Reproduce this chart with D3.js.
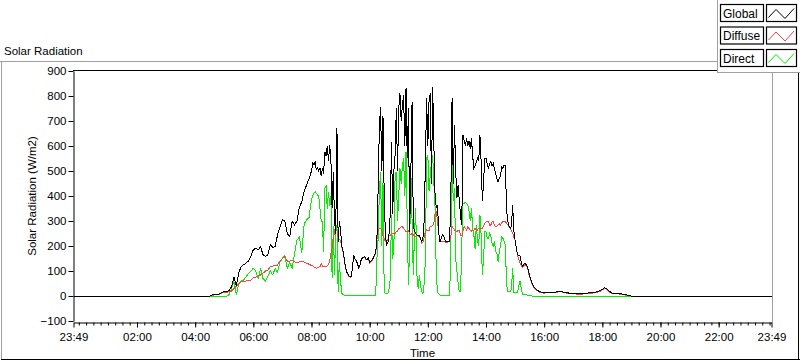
<!DOCTYPE html>
<html><head><meta charset="utf-8">
<script src="https://cdn.jsdelivr.net/npm/d3@7"></script>
<style>
body{margin:0;background:#fff;}
svg{display:block;font-family:"Liberation Sans",Arial,sans-serif;}
</style></head><body>
<svg id="c" width="800" height="361"></svg>
<script>
// ---- DATA ----
const timeLabels = ["23:49",
"04:30","04:35","04:40","04:45","04:50","04:55",
"05:00","05:05","05:10","05:15","05:20","05:25","05:30","05:35","05:40","05:45","05:50","05:55",
"06:00","06:05","06:10","06:15","06:20","06:25","06:30","06:35","06:40","06:45","06:50","06:55",
"07:00","07:05","07:10","07:15","07:20","07:25","07:30","07:35","07:40","07:45","07:50","07:55",
"08:00","08:02:30","08:05","08:07:30","08:10","08:12:30","08:15","08:17:30","08:20","08:22:30","08:25","08:27:30","08:30","08:32:30","08:35","08:37:30","08:40","08:42:30","08:45","08:47:30","08:50","08:52:30","08:55","08:57:30",
"09:00","09:02:30","09:05","09:07:30","09:10","09:12:30","09:15","09:17:30","09:20","09:22:30","09:25","09:27:30","09:30","09:32:30","09:35","09:37:30","09:40","09:42:30","09:45","09:47:30","09:50","09:52:30","09:55","09:57:30",
"10:00","10:02:30","10:05","10:07:30","10:10","10:12:30","10:15","10:17:30","10:20","10:22:30","10:25","10:27:30","10:30","10:32:30","10:35","10:37:30","10:40","10:42:30","10:45","10:47:30","10:50","10:52:30","10:55","10:57:30",
"11:00","11:02:30","11:05","11:07:30","11:10","11:12:30","11:15","11:17:30","11:20","11:22:30","11:25","11:27:30","11:30","11:32:30","11:35","11:37:30","11:40","11:42:30","11:45","11:47:30","11:50","11:52:30","11:55","11:57:30",
"12:00","12:02:30","12:05","12:07:30","12:10","12:12:30","12:15","12:17:30","12:20","12:22:30","12:25","12:27:30","12:30","12:32:30","12:35","12:37:30","12:40","12:42:30","12:45","12:47:30","12:50","12:52:30","12:55","12:57:30",
"13:00","13:02:30","13:05","13:07:30","13:10","13:12:30","13:15","13:17:30","13:20","13:22:30","13:25","13:27:30","13:30","13:32:30","13:35","13:37:30","13:40","13:42:30","13:45","13:47:30","13:50","13:52:30","13:55","13:57:30",
"14:00","14:02:30","14:05","14:07:30","14:10","14:12:30","14:15","14:17:30","14:20","14:22:30","14:25","14:27:30","14:30","14:32:30","14:35","14:37:30","14:40","14:42:30","14:45","14:47:30","14:50","14:52:30","14:55","14:57:30",
"15:00","15:05","15:10","15:15","15:20","15:25","15:30","15:35","15:40","15:45","15:50","15:55",
"16:00","16:05","16:10","16:15","16:20","16:25","16:30","16:35","16:40","16:45","16:50","16:55",
"17:00","17:05","17:10","17:15","17:20","17:25","17:30","17:35","17:40","17:45","17:50","17:55",
"18:00","18:05","18:10","18:15","18:20","18:25","18:30","18:35","18:40","18:45","18:50","18:55",
"19:00",
"23:49"];

const globalVals = [0,
0,4,5,6,8,15,
17,18,22,37,77,40,95,117,125,132,140,160,
185,192,185,197,165,158,165,204,195,197,245,277,
305,300,250,237,300,285,300,355,377,420,444,470,
500,531,525,535,505,512,500,512,480,512,490,577,560,600,540,604,550,351,497,300,250,671,217,300,
260,200,180,150,115,97,88,80,77,80,130,160,148,142,128,113,124,145,152,155,157,148,146,151,
135,140,145,151,165,175,231,431,680,757,500,720,400,244,204,212,250,330,617,330,500,564,751,500,
751,811,700,764,804,600,831,551,750,257,500,777,284,260,250,244,244,240,230,217,235,300,537,791,
600,780,810,450,837,600,400,351,364,250,217,230,244,240,225,217,217,217,220,400,791,450,684,500,
391,444,380,320,284,644,620,600,630,600,620,590,630,560,511,520,537,550,540,644,537,380,457,551,
551,530,510,530,540,520,530,510,490,470,457,470,480,517,510,524,524,344,300,280,271,280,364,260,
224,165,160,118,131,120,80,50,33,24,18,15,
13,15,15,15,15,16,20,20,15,14,12,12,
11,10,10,10,10,11,12,13,14,15,18,21,
27,33,28,18,12,11,11,10,8,6,4,1,
0,
0];

const diffuseVals = [0,
0,3,4,5,7,12,
14,15,18,20,30,40,50,57,57,60,62,64,
72,76,80,84,91,100,104,117,120,122,124,140,
151,157,140,140,142,137,133,137,140,135,131,127,
122,120,117,114,111,113,115,117,130,120,117,117,117,120,125,140,170,195,217,264,265,260,231,226,
222,195,177,147,112,95,86,78,75,78,128,158,146,140,126,111,122,143,150,153,155,146,144,149,
133,138,143,149,163,171,224,260,271,271,265,240,231,217,220,225,244,244,251,251,251,251,257,260,
271,271,277,277,271,264,257,257,260,251,244,251,244,240,237,244,240,235,231,211,215,235,257,264,
262,260,280,277,282,290,331,337,300,250,217,217,217,217,217,215,215,217,217,240,277,271,264,260,
257,264,264,244,240,260,277,270,264,277,270,264,260,264,264,270,264,264,271,271,271,271,280,290,
297,300,297,284,284,297,297,284,277,280,284,290,284,293,297,297,297,290,284,277,271,260,251,235,
222,163,133,113,125,117,75,47,30,22,16,13,
11,13,13,13,13,14,17,18,13,12,10,10,
9,8,8,8,8,9,10,11,12,13,15,18,
24,30,25,16,10,9,9,8,6,5,3,1,
0,
0];

const directVals = [0,
0,0,0,0,0,0,
0,0,5,30,57,5,52,60,64,77,90,100,
111,100,70,110,70,60,80,100,85,110,95,137,
150,164,110,135,111,170,224,235,173,290,304,315,
385,400,411,417,410,404,400,351,300,297,177,431,440,350,417,360,400,71,280,84,257,284,17,137,
60,10,6,4,4,4,4,4,4,4,4,4,4,4,4,4,4,4,4,4,4,4,4,4,
4,4,4,4,4,4,150,231,420,497,200,450,20,10,10,10,30,67,324,150,200,484,497,300,
400,511,450,520,551,400,577,300,44,200,497,300,84,250,351,84,30,84,40,17,10,50,150,551,
564,420,484,537,564,450,351,84,17,8,4,2,2,2,2,2,2,2,2,200,524,380,431,150,
100,50,17,17,200,371,371,375,371,365,340,300,351,270,244,190,284,220,200,324,244,84,150,257,
257,230,230,250,240,210,200,220,177,170,137,180,200,237,230,220,200,44,17,17,17,30,111,15,
15,15,60,8,6,4,2,0,0,0,0,0,
0,0,0,0,0,0,0,0,0,0,0,0,
0,0,0,0,0,0,0,0,0,0,0,0,
0,0,0,0,0,0,0,0,0,0,0,0,
0,
0];

const seriesNames = ["Global","Diffuse","Direct"];
const seriesColors = ["#000000","#ff4040","#00f000"];
const yTickValues = [-100,0,100,200,300,400,500,600,700,800,900];
const xTickLabels = ["23:49","02:00","04:00","06:00","08:00","10:00","12:00","14:00","16:00","18:00","20:00","22:00","23:49"];
const chartTitle = "Solar Radiation";
const xTitle = "Time";
const yTitle = "Solar Radiation (W/m2)";

// ---- helpers ----
function parseSeq(labels){
  let day = 0, prev = -1;
  return labels.map(s => {
    const [h,m,sec] = s.split(":").map(Number);
    const v = h*3600+m*60+(sec||0);
    if (prev >= 0 && v < prev) day++;
    prev = v;
    return new Date(2000,0,1+day,h,m,sec||0);
  });
}
const times = parseSeq(timeLabels);
const xTicks = parseSeq(xTickLabels);
[globalVals, diffuseVals, directVals].forEach((a,i)=>{
  if (a.length !== times.length) console.error("length mismatch", i, a.length, times.length);
});

const svg = d3.select("#c");
const FONT = "11.5px";

const L = 73.5, R = 771.5, T = 71, B = 321;
const x = d3.scaleTime().domain([xTicks[0], xTicks[xTicks.length-1]]).range([L, R]);
const y = d3.scaleLinear().domain([-100, 900]).range([B, T]);

// outer frame
svg.append("line").attr("x1",0).attr("x2",717).attr("y1",61.5).attr("y2",61.5).attr("stroke","#a0a0a0");
svg.append("line").attr("x1",1.5).attr("x2",1.5).attr("y1",61).attr("y2",360).attr("stroke","#a0a0a0");
svg.append("line").attr("x1",1).attr("x2",800).attr("y1",359.5).attr("y2",359.5).attr("stroke","#000");
svg.append("line").attr("x1",798.5).attr("x2",798.5).attr("y1",61).attr("y2",360).attr("stroke","#000");

svg.append("text").attr("x",4).attr("y",55).attr("font-size",FONT).attr("fill","#000").text(chartTitle);

// plot border
svg.append("line").attr("x1",73).attr("x2",772).attr("y1",70.5).attr("y2",70.5).attr("stroke","#000");
svg.append("line").attr("x1",772.5).attr("x2",772.5).attr("y1",70).attr("y2",322.5).attr("stroke","#a0a0a0");

// data lines
const line = d3.line().x((d,i)=>x(times[i])).y(d=>y(d));
const seriesVals = [globalVals, diffuseVals, directVals];
const g = svg.append("g");
[2,1,0].forEach(k => {
  g.append("path").datum(seriesVals[k])
    .attr("d", line).attr("fill","none")
    .attr("stroke", seriesColors[k]).attr("stroke-width",1)
    .attr("shape-rendering","crispEdges");
});

// y axis
const yAxis = svg.append("g").attr("transform",`translate(${L},0)`)
  .call(d3.axisLeft(y).tickValues(yTickValues).tickSize(5).tickSizeOuter(0).tickPadding(2));
yAxis.selectAll("text").attr("font-size",FONT).attr("font-family","Liberation Sans, Arial, sans-serif").attr("fill","#000");
yAxis.selectAll("line,path").attr("stroke","#000");

// x axis (bottom)
const xAxisY = 322.5;
const xa = svg.append("g").attr("transform",`translate(0,${xAxisY})`)
  .call(d3.axisBottom(x).tickValues(xTicks).tickFormat(d3.timeFormat("%H:%M")).tickSize(5).tickSizeOuter(0).tickPadding(5));
xa.selectAll("text").attr("font-size",FONT).attr("font-family","Liberation Sans, Arial, sans-serif").attr("fill","#000");
xa.selectAll("line").attr("stroke","#000");
xa.select("path").attr("stroke","#000");
const minor = d3.timeMinute.every(15).range(xTicks[0], xTicks[xTicks.length-1]);
const xm = svg.append("g").attr("transform",`translate(0,${xAxisY})`)
  .call(d3.axisBottom(x).tickValues(minor).tickSize(3).tickSizeOuter(0).tickFormat(""));
xm.select("path").remove();
xm.selectAll("line").attr("stroke","#000");

// axis titles
svg.append("text").attr("x",(L+R)/2).attr("y",357).attr("text-anchor","middle")
  .attr("font-size",FONT).text(xTitle);
svg.append("text").attr("transform",`translate(36,196) rotate(-90)`).attr("text-anchor","middle")
  .attr("font-size",FONT).text(yTitle);

// legend
const lg = svg.append("g");
lg.append("rect").attr("x",717.5).attr("y",-1).attr("width",83).attr("height",73.5)
  .attr("fill","#fff").attr("stroke","#a0a0a0");
seriesNames.forEach((name,i) => {
  const y0 = 4.5 + i*22.5;
  lg.append("rect").attr("x",720.5).attr("y",y0).attr("width",43).attr("height",17)
    .attr("fill","#fff").attr("stroke","#000").attr("stroke-width",1.2);
  lg.append("text").attr("x",723).attr("y",y0+13).attr("font-size","12px").attr("fill","#000").text(name);
  lg.append("rect").attr("x",766.5).attr("y",y0).attr("width",30).attr("height",17)
    .attr("fill","#fff").attr("stroke","#000").attr("stroke-width",1.2);
  lg.append("path").attr("d",`M768.5,${y0+13}L776,${y0+5}L785,${y0+14}L794,${y0+4}`)
    .attr("fill","none").attr("stroke",seriesColors[i]).attr("stroke-width",1);
});
</script>
</body></html>
